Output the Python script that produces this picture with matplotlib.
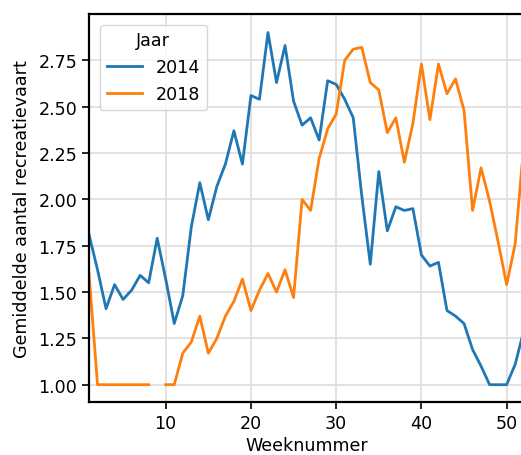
import numpy as np
import matplotlib
matplotlib.use("Agg")
import matplotlib.pyplot as plt

weeks = list(range(1, 53))
y2014 = [1.81, 1.62, 1.41, 1.54, 1.46, 1.51, 1.59, 1.55, 1.79, 1.57,
         1.33, 1.48, 1.85, 2.09, 1.89, 2.07, 2.19, 2.37, 2.19, 2.56,
         2.54, 2.90, 2.63, 2.83, 2.53, 2.40, 2.44, 2.32, 2.64, 2.62,
         2.54, 2.44, 2.02, 1.65, 2.15, 1.83, 1.96, 1.94, 1.95, 1.70,
         1.64, 1.66, 1.40, 1.37, 1.33, 1.19, 1.10, 1.00, 1.00, 1.00,
         1.11, 1.29]
y2018 = [1.60, 1.00, 1.00, 1.00, 1.00, 1.00, 1.00, 1.00, np.nan, 1.00,
         1.00, 1.17, 1.23, 1.37, 1.17, 1.25, 1.37, 1.45, 1.57, 1.40,
         1.51, 1.60, 1.50, 1.62, 1.47, 2.00, 1.94, 2.22, 2.38, 2.46,
         2.75, 2.81, 2.82, 2.63, 2.59, 2.36, 2.44, 2.20, 2.41, 2.73,
         2.43, 2.73, 2.57, 2.65, 2.48, 1.94, 2.17, 1.99, 1.77, 1.54,
         1.76, 2.29]
years = ["2014", "2018"]
colors = ["#1f77b4", "#ff7f0e"]

fs = 12.6
fig = plt.figure(figsize=(5.21, 4.56), dpi=100)
ax = fig.add_axes([89/521, 1-403.3/456, (523.7-89)/521, (403.3-15)/456])

for lbl, ys, c in zip(years, [y2014, y2018], colors):
    ax.plot(weeks, ys, color=c, lw=2.0, label=lbl)

ax.set_xlim(1, 52)
ax.set_ylim(0.905, 3.0)
ax.set_yticks([1.00, 1.25, 1.50, 1.75, 2.00, 2.25, 2.50, 2.75])
ax.set_yticklabels([f"{v:.2f}" for v in [1.00, 1.25, 1.50, 1.75, 2.00, 2.25, 2.50, 2.75]])
ax.set_xticks([10, 20, 30, 40, 50])
ax.grid(True, color="#dddddd", lw=1.2)
ax.set_axisbelow(True)
for s in ax.spines.values():
    s.set_linewidth(1.6)
ax.tick_params(labelsize=fs, width=1.2, length=5)
ax.set_xlabel("Weeknummer", fontsize=fs, labelpad=3)
ax.set_ylabel("Gemiddelde aantal recreatievaart", fontsize=fs, labelpad=5)
leg = ax.legend(title="Jaar", loc="upper left", fontsize=fs, title_fontsize=fs,
                handlelength=2.0, borderaxespad=0.6)
fig.savefig("out.png", dpi=100)
